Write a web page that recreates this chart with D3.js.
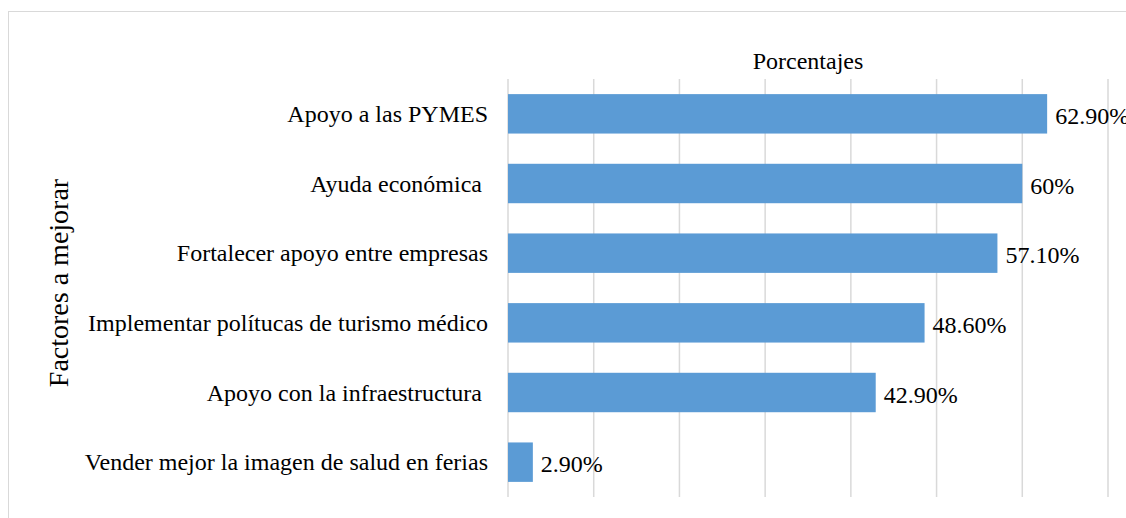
<!DOCTYPE html>
<html><head><meta charset="utf-8">
<script src="https://cdn.jsdelivr.net/npm/d3@7"></script>
</head>
<body style="margin:0">
<svg id="chart" width="1126" height="518"></svg>
<script>
const categories = [
  "Apoyo a las PYMES",
  "Ayuda económica ",
  "Fortalecer apoyo entre empresas",
  "Implementar polítucas de turismo médico",
  "Apoyo con la infraestructura ",
  "Vender mejor la imagen de salud en ferias"
];
const values = [62.9, 60, 57.1, 48.6, 42.9, 2.9];
const valueLabels = ["62.90%", "60%", "57.10%", "48.60%", "42.90%", "2.90%"];
const xTicks = [0, 10, 20, 30, 40, 50, 60, 70];
const xTitle = "Porcentajes";
const yTitle = "Factores a mejorar";

const FONT = "'Liberation Serif', 'Times New Roman', Tinos, 'Nimbus Roman', FreeSerif, serif";
const svg = d3.select("#chart");

svg.append("rect").attr("x", 8.5).attr("y", 11.5).attr("width", 1130).attr("height", 520)
  .attr("fill", "#fff").attr("stroke", "#d9d9d9").attr("stroke-width", 1);

const x = d3.scaleLinear().domain([0, 70]).range([508, 1108]);
const y = d3.scaleBand().domain(categories).range([79, 497]).paddingInner(0.434).paddingOuter(0.217);

svg.append("g").selectAll("line").data(xTicks).join("line")
  .attr("x1", d => x(d)).attr("x2", d => x(d))
  .attr("y1", 79).attr("y2", 497)
  .attr("stroke", "#d9d9d9").attr("stroke-width", 1.5);

svg.append("g").selectAll("rect").data(values).join("rect")
  .attr("x", x(0))
  .attr("y", (d, i) => y(categories[i]))
  .attr("width", d => x(d) - x(0))
  .attr("height", y.bandwidth())
  .attr("fill", "#5b9bd5");

svg.append("g").selectAll("text").data(values).join("text")
  .attr("x", d => x(d) + 8)
  .attr("y", (d, i) => y(categories[i]) + y.bandwidth() / 2 + 10)
  .style("font-family", FONT).style("font-size", "24px").attr("fill", "#000")
  .text((d, i) => valueLabels[i]);

svg.append("g").selectAll("text").data(categories).join("text")
  .attr("x", 488)
  .attr("y", d => y(d) + y.bandwidth() / 2 + 8)
  .attr("text-anchor", "end")
  .attr("xml:space", "preserve")
  .style("font-family", FONT).style("font-size", "24px").attr("fill", "#000")
  .text(d => d);

svg.append("text").attr("x", (x(0) + x(70)) / 2).attr("y", 69)
  .attr("text-anchor", "middle")
  .style("font-family", FONT).style("font-size", "24px").attr("fill", "#000")
  .text(xTitle);

svg.append("text").attr("transform", "translate(68,283) rotate(-90)")
  .attr("text-anchor", "middle")
  .style("font-family", FONT).style("font-size", "28px").attr("fill", "#000")
  .text(yTitle);
</script>
</body></html>
